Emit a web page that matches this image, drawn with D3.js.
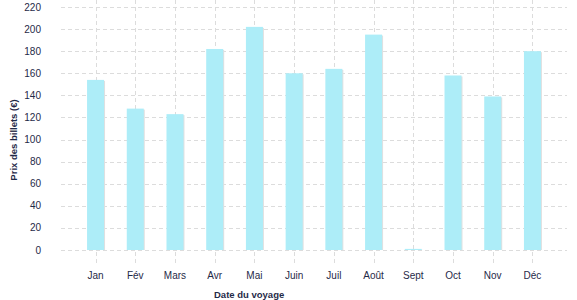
<!DOCTYPE html>
<html>
<head>
<meta charset="utf-8">
<script src="https://cdn.jsdelivr.net/npm/d3@7"></script>
<style>
  body { margin: 0; background: #fff; }
  text { font-family: "Liberation Sans", Arial, sans-serif; fill: #1f2a48; }
</style>
</head>
<body>
<div id="chart"></div>
<script>
// Chart data
var months = ["Jan", "Fév", "Mars", "Avr", "Mai", "Juin", "Juil", "Août", "Sept", "Oct", "Nov", "Déc"];
var prices = [154, 128, 123, 182, 202, 160, 164, 195, 1, 158, 139, 180];
var yTicks = [0, 20, 40, 60, 80, 100, 120, 140, 160, 180, 200, 220];

var svgWidth = 577;
var svgHeight = 300;

var plotLeft = 61, plotRight = 567;
var plotTop = 7, plotBottom = 250;

var svg = d3.select("#chart")
  .append("svg")
  .attr("width", svgWidth)
  .attr("height", svgHeight);

var xScale = d3.scalePoint()
  .domain(months)
  .range([plotLeft, plotRight])
  .padding(0.87);

var yScale = d3.scaleLinear()
  .domain([0, 220])
  .range([plotBottom, plotTop]);

var gridColor = "#dcdcdc";

// horizontal grid
svg.append("g")
  .selectAll("line")
  .data(yTicks)
  .enter()
  .append("line")
  .attr("x1", plotLeft)
  .attr("x2", plotRight)
  .attr("y1", d => Math.round(yScale(d)) + 0.5)
  .attr("y2", d => Math.round(yScale(d)) + 0.5)
  .attr("stroke", gridColor)
  .attr("stroke-dasharray", "4,3");

// vertical grid, running down past the baseline like ticks
svg.append("g")
  .selectAll("line")
  .data(months)
  .enter()
  .append("line")
  .attr("x1", d => Math.round(xScale(d)) + 0.5)
  .attr("x2", d => Math.round(xScale(d)) + 0.5)
  .attr("y1", 0)
  .attr("y2", 263)
  .attr("stroke", gridColor)
  .attr("stroke-dasharray", "4,3");

var barWidth = 17;

// bar shadows
svg.append("g")
  .selectAll("rect")
  .data(prices)
  .enter()
  .append("rect")
  .attr("x", (d, i) => xScale(months[i]) - barWidth / 2 + 1)
  .attr("y", d => yScale(d) + 1)
  .attr("width", barWidth)
  .attr("height", d => plotBottom - yScale(d) - 1)
  .attr("fill", "#e0e0e0");

// bars
svg.append("g")
  .selectAll("rect")
  .data(prices)
  .enter()
  .append("rect")
  .attr("x", (d, i) => xScale(months[i]) - barWidth / 2)
  .attr("y", d => yScale(d))
  .attr("width", barWidth)
  .attr("height", d => plotBottom - yScale(d))
  .attr("fill", "#adedf8");

// y tick labels
svg.append("g")
  .selectAll("text")
  .data(yTicks)
  .enter()
  .append("text")
  .attr("x", 41)
  .attr("y", d => yScale(d) + 3.5)
  .attr("text-anchor", "end")
  .style("font-size", "10px")
  .text(d => d);

// x tick labels
svg.append("g")
  .selectAll("text")
  .data(months)
  .enter()
  .append("text")
  .attr("x", d => xScale(d))
  .attr("y", 278.5)
  .attr("text-anchor", "middle")
  .style("font-size", "10px")
  .text(d => d);

// axis titles
svg.append("text")
  .attr("x", 214)
  .attr("y", 298)
  .style("font-size", "9.5px")
  .style("font-weight", "bold")
  .text("Date du voyage");

svg.append("text")
  .attr("transform", "translate(17,140) rotate(-90)")
  .attr("text-anchor", "middle")
  .style("font-size", "9.5px")
  .style("font-weight", "bold")
  .text("Prix des billets (€)");
</script>
</body>
</html>
